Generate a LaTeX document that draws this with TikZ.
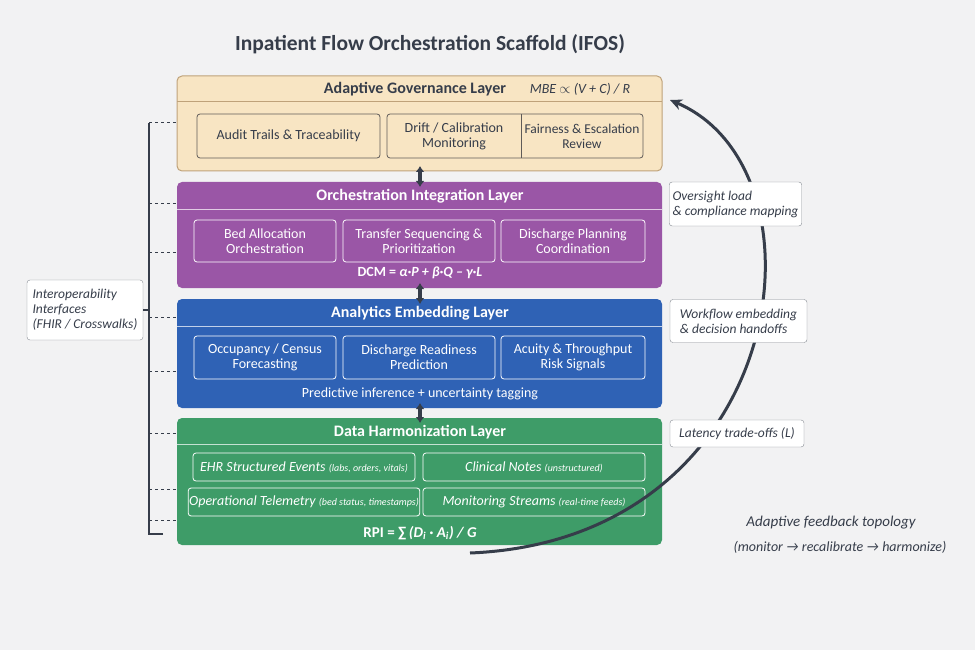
\documentclass[tikz,border=0pt]{standalone}
\usepackage{fontspec}
\setmainfont{Carlito}
\usetikzlibrary{arrows.meta, positioning}
\definecolor{bgc}{HTML}{F2F2F3}
\definecolor{govfill}{HTML}{F8E5C3}
\definecolor{govline}{HTML}{BFA27A}
\definecolor{orchfill}{HTML}{9A56A6}
\definecolor{anafill}{HTML}{2F62B5}
\definecolor{datafill}{HTML}{3E9C68}
\definecolor{ink}{HTML}{363D4A}
\tikzset{
  sub/.style={draw=white, rounded corners=3pt, line width=0.8pt, text=white, align=center, font=\fontsize{14}{15}\selectfont},
  gsub/.style={draw=ink!70!govline, rounded corners=3pt, line width=0.8pt, text=ink, align=center, font=\fontsize{14}{15}\selectfont},
  note/.style={draw=ink!60, fill=white, rounded corners=3pt, align=left, font=\fontsize{13.5}{15}\selectfont\itshape, text=ink},
  ttl/.style={font=\fontsize{16}{17}\selectfont\bfseries},
  link/.style={{Latex[length=6pt,width=9pt]}-{Latex[length=6pt,width=9pt]}, line width=3.5pt, ink},
  tick/.style={dashed, ink, line width=1pt}
}
\begin{document}
\begin{tikzpicture}[x=1pt, y=-1pt]
\fill[bgc] (0,0) rectangle (975,650);
\useasboundingbox (0,0) rectangle (975,650);
\node[font=\fontsize{21.5}{24}\selectfont\bfseries, text=ink] (title) at (430,44) {Inpatient Flow Orchestration Scaffold (IFOS)};

% governance
\draw[fill=govfill, draw=govline, rounded corners=5pt, line width=1pt] (177,76) rectangle (662,171);
\draw[govline, line width=1pt] (177,102) -- (662,102);
\node[ttl, text=ink] (gov) at (415,89) {Adaptive Governance Layer};
\node[font=\fontsize{14}{15}\selectfont\itshape, text=ink] (mbe) at (580,89) {MBE $\propto$ (V + C) / R};
\node[gsub, minimum width=183pt, minimum height=44pt] (audit) at (288.5,136) {Audit Trails \& Traceability};
\draw[ink!70!govline, rounded corners=3pt, line width=0.8pt] (387,114) rectangle (643,158);
\draw[ink!70!govline, line width=0.8pt] (521,114) -- (521,158);
\node[text=ink, align=center, font=\fontsize{14}{15}\selectfont] (drift) at (454,136) {Drift / Calibration\\Monitoring};
\node[text=ink, align=center, font=\fontsize{13.5}{15}\selectfont] (fair) at (582,136) {Fairness \& Escalation\\Review};

% orchestration
\fill[orchfill, rounded corners=5pt] (177,182) rectangle (662,288);
\draw[white!70!orchfill, line width=1pt] (177,209) -- (662,209);
\node[ttl, text=white] (orch) at (420,196) {Orchestration Integration Layer};
\node[sub, minimum width=142pt, minimum height=42pt] (bed) at (265,241) {Bed Allocation\\Orchestration};
\node[sub, minimum width=152pt, minimum height=42pt] (trans) at (419,241) {Transfer Sequencing \&\\Prioritization};
\node[sub, minimum width=144pt, minimum height=42pt] (disc) at (573,241) {Discharge Planning\\Coordination};
\node[text=white, font=\fontsize{14}{15}\selectfont\bfseries] (dcm) at (420,273) {DCM = \textit{α·P + β·Q – γ·L}};

% analytics
\fill[anafill, rounded corners=5pt] (177,299) rectangle (662,408);
\draw[white!70!anafill, line width=1pt] (177,326) -- (662,326);
\node[ttl, text=white] (ana) at (420,313) {Analytics Embedding Layer};
\node[sub, minimum width=142pt, minimum height=43pt] (occ) at (265,357.5) {Occupancy / Census\\Forecasting};
\node[sub, minimum width=152pt, minimum height=43pt] (ready) at (419,357.5) {Discharge Readiness\\Prediction};
\node[sub, minimum width=144pt, minimum height=43pt] (acu) at (573,357.5) {Acuity \& Throughput\\Risk Signals};
\node[text=white, font=\fontsize{14}{15}\selectfont] (pred) at (420,394) {Predictive inference + uncertainty tagging};

% data
\fill[datafill, rounded corners=5pt] (177,418) rectangle (662,545);
\draw[white!70!datafill, line width=1pt] (177,444) -- (662,444);
\node[ttl, text=white] (dat) at (420,432) {Data Harmonization Layer};
\node[sub, minimum width=222pt, minimum height=28pt, inner sep=1pt] (ehr) at (304,467) {\itshape EHR Structured Events {\fontsize{10}{11}\selectfont(labs, orders, vitals)}};
\node[sub, minimum width=222pt, minimum height=28pt, inner sep=1pt] (notes) at (534,467) {\itshape Clinical Notes {\fontsize{10}{11}\selectfont(unstructured)}};
\node[sub, minimum width=222pt, minimum height=28pt, inner sep=1pt] (tele) at (304,502) {\itshape Operational Telemetry {\fontsize{10}{11}\selectfont(bed status, timestamps)}};
\node[sub, minimum width=222pt, minimum height=28pt, inner sep=1pt] (mon) at (534,502) {\itshape Monitoring Streams {\fontsize{10}{11}\selectfont(real-time feeds)}};
\node[text=white, font=\fontsize{15}{16}\selectfont\bfseries] (rpi) at (420,533) {RPI = ∑\,\textit{(D\textsubscript{i} · A\textsubscript{i}) / G}};

% links between layers
\coordinate (g1) at (420,166); \coordinate (o1) at (420,187);
\coordinate (o2) at (420,283); \coordinate (a1) at (420,304);
\coordinate (a2) at (420,403); \coordinate (d1) at (420,423);
\draw[link] (g1) -- (o1);
\draw[link] (o2) -- (a1);
\draw[link] (a2) -- (d1);

% interoperability bracket
\coordinate (btop) at (149,123); \coordinate (bbot) at (149,534);
\draw[ink, line width=1.2pt] (163,534) -- (bbot) -- (btop);
\foreach \y in {123,203,252,317,371,433,489,520}
  \draw[tick] (149,\y) -- (176,\y);
\node[note, minimum width=116pt, minimum height=60pt] (interop) at (85,310) {Interoperability\\Interfaces\\(FHIR / Crosswalks)};
\draw[ink, line width=1.2pt] (interop.east) -- (149,310);

% feedback loop
\coordinate (fstart) at (470,553);
\coordinate (fend) at (670,100);
\draw[ink, line width=3pt, -{Stealth[length=12pt,width=11pt]}] (fstart) .. controls (790,540) and (835,170) .. (fend);
\node[note, minimum width=131pt, minimum height=44pt] (over) at (735.5,204) {Oversight load\\\& compliance mapping};
\node[note, minimum width=137pt, minimum height=43pt] (work) at (738.5,321) {Workflow embedding\\\& decision handoffs};
\node[note, minimum width=134pt, minimum height=27pt] (lat) at (737,433.5) {Latency trade-offs (L)};
\node[font=\fontsize{15}{16}\selectfont\itshape, text=ink] (fb) at (831,523) {Adaptive feedback topology};
\node[font=\fontsize{14}{15}\selectfont\itshape, text=ink] (fbsub) at (840,547) {(monitor → recalibrate → harmonize)};
\end{tikzpicture}
\end{document}
